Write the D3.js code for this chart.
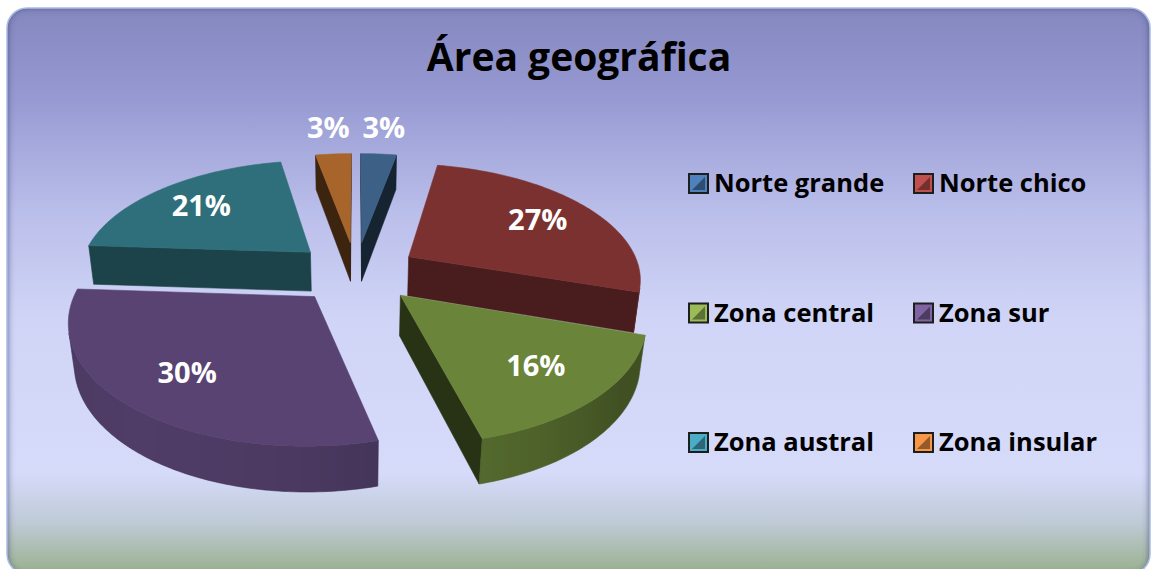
<!DOCTYPE html>
<html>
<head>
<meta charset="utf-8">
<script src="https://cdn.jsdelivr.net/npm/d3@7"></script>
<style>
  body { margin: 0; background: #fff; }
  svg { display: block; font-family: "Open Sans", sans-serif; }
</style>
</head>
<body>
<div id="chart"></div>
<script>
// data
var categories = ["Norte grande", "Norte chico", "Zona central", "Zona sur", "Zona austral", "Zona insular"];
var values = [3, 27, 16, 30, 21, 3];
var labels = ["3%", "27%", "16%", "30%", "21%", "3%"];
var title = "Área geográfica";

// palette
var topColors = ["#3d6186", "#7c3131", "#6a8539", "#584372", "#2f6f7b", "#a8652b"];
var legendColors = ["#4f81bd", "#c0504d", "#9bbb59", "#8064a2", "#4bacc6", "#f79646"];

var width = 1154, height = 569;

var svg = d3.select("#chart").append("svg")
    .attr("width", width)
    .attr("height", height);

var defs = svg.append("defs");

var bg = defs.append("linearGradient").attr("id", "bg")
    .attr("x1", 0).attr("y1", 0).attr("x2", 0).attr("y2", 1);
[[0, "#8587bf"], [0.16, "#979ad2"], [0.36, "#babeea"], [0.55, "#d0d5f7"], [0.82, "#d6dbfa"],
 [0.91, "#bfcad6"], [1, "#98b08c"]].forEach(function(s) {
    bg.append("stop").attr("offset", s[0]).attr("stop-color", s[1]);
});

defs.append("clipPath").attr("id", "frameClip")
    .append("rect").attr("x", 7).attr("y", 8).attr("width", 1143).attr("height", 566).attr("rx", 20);

defs.append("filter").attr("id", "blur").attr("x", -0.1).attr("y", -0.1).attr("width", 1.2).attr("height", 1.2)
    .append("feGaussianBlur").attr("stdDeviation", 3);

// frame
svg.append("rect")
    .attr("x", 7).attr("y", 8).attr("width", 1143).attr("height", 566).attr("rx", 20)
    .attr("fill", "url(#bg)");

svg.append("g").attr("clip-path", "url(#frameClip)")
    .append("rect")
    .attr("x", 4).attr("y", 4).attr("width", 1149).attr("height", 575).attr("rx", 22)
    .attr("fill", "none")
    .attr("stroke", "#3c3f6e")
    .attr("stroke-opacity", 0.7)
    .attr("stroke-width", 8)
    .attr("filter", "url(#blur)");

svg.append("rect")
    .attr("x", 7).attr("y", 8).attr("width", 1143).attr("height", 566).attr("rx", 20)
    .attr("fill", "none")
    .attr("stroke", "#a9bde6")
    .attr("stroke-width", 1.5);

// title
svg.append("text")
    .attr("x", 579).attr("y", 71)
    .attr("text-anchor", "middle")
    .attr("font-size", 39).attr("font-weight", "bold")
    .attr("fill", "#000")
    .text(title);

// 3D pie projection
var cx = 356, cy = 272, S = 232, D = 5, phi = 29.4 * Math.PI / 180;
var depth = 0.2, explode = 0.27;
var cosP = Math.cos(phi), sinP = Math.sin(phi);
var camZ = D * cosP;

function proj(X, Z, H) {
    var d = D - Z * cosP - H * sinP, k = D / d;
    return [cx + S * X * k, cy - S * (H * cosP - Z * sinP) * k];
}
function faces(px, pz, nx, nz) {
    return (0 - px) * nx + (camZ - pz) * nz > 0;
}
function shade(c, f) {
    var r = d3.rgb(c);
    return d3.rgb(r.r * f, r.g * f, r.b * f).formatHex();
}
function poly(pts) {
    return "M" + pts.map(function(p) { return p[0].toFixed(2) + "," + p[1].toFixed(2); }).join("L") + "Z";
}

var arcs = d3.pie().sort(null).value(function(d) { return d; })(values);

var slices = arcs.map(function(a, i) {
    var a0 = a.startAngle, a1 = a.endAngle, m = (a0 + a1) / 2;
    var ox = explode * Math.sin(m), oz = -explode * Math.cos(m);
    var base = topColors[i];
    var list = [];
    function pt(t, r, H) { return proj(ox + r * Math.sin(t), oz - r * Math.cos(t), H); }

    var n = Math.max(2, Math.ceil((a1 - a0) / (Math.PI / 180)));
    var ts = d3.range(n + 1).map(function(j) { return a0 + (a1 - a0) * j / n; });

    // radial walls
    [[a0, -Math.cos(a0), -Math.sin(a0)], [a1, Math.cos(a1), Math.sin(a1)]].forEach(function(w) {
        var t = w[0], nx = w[1], nz = w[2];
        if (faces(ox + 0.5 * Math.sin(t), oz - 0.5 * Math.cos(t), nx, nz)) {
            list.push({ d: poly([pt(t, 0, 0), pt(t, 1, 0), pt(t, 1, -depth), pt(t, 0, -depth)]),
                        fill: shade(base, 0.3 + 0.3 * Math.max(0, nz)) });
        }
    });

    // outer curved wall: visible run of segments, one path with a horizontal gradient
    var vis = [];
    for (var j = 0; j < n; j++) {
        var tm = (ts[j] + ts[j + 1]) / 2, nx = Math.sin(tm), nz = -Math.cos(tm);
        if (faces(ox + nx, oz + nz, nx, nz)) vis.push(j);
    }
    if (vis.length) {
        var j0 = vis[0], j1 = vis[vis.length - 1] + 1;
        var run = ts.slice(j0, j1 + 1);
        var topPts = run.map(function(t) { return pt(t, 1, 0); });
        var botPts = run.map(function(t) { return pt(t, 1, -depth); }).reverse();
        var gid = "wall" + i;
        var xs = topPts.map(function(p) { return p[0]; });
        var xmin = d3.min(xs), xmax = d3.max(xs);
        var g = defs.append("linearGradient").attr("id", gid)
            .attr("gradientUnits", "userSpaceOnUse")
            .attr("x1", xmin).attr("y1", 0).attr("x2", xmax).attr("y2", 0);
        var stops = run.map(function(t, k) {
            var nx = Math.sin(t), nz = -Math.cos(t);
            return [(topPts[k][0] - xmin) / Math.max(1, xmax - xmin),
                    shade(base, 0.6 + 0.3 * Math.max(0, 0.8 * nz - 0.6 * nx))];
        }).sort(function(p, q) { return p[0] - q[0]; });
        stops.forEach(function(s) {
            g.append("stop").attr("offset", s[0]).attr("stop-color", s[1]);
        });
        list.push({ d: poly(topPts.concat(botPts)), fill: "url(#" + gid + ")", stroke: shade(base, 0.7) });
    }

    // top face
    list.push({ d: poly([pt(0, 0, 0)].concat(ts.map(function(t) { return pt(t, 1, 0); }))), fill: base });

    var lr = values[i] < 5 ? 1.36 : 0.72;
    return {
        z: oz - 0.5 * Math.cos(m),
        faces: list,
        label: labels[i],
        lp: pt(m, lr, 0)
    };
});

var pieG = svg.append("g");
slices.slice().sort(function(a, b) { return a.z - b.z; }).forEach(function(s) {
    pieG.append("g").selectAll("path")
        .data(s.faces)
        .enter().append("path")
        .attr("d", function(f) { return f.d; })
        .attr("fill", function(f) { return f.fill; })
        .attr("stroke", function(f) { return f.stroke || f.fill; })
        .attr("stroke-width", 0.6)
        .attr("stroke-linejoin", "round");
});

svg.append("g").selectAll("text")
    .data(slices)
    .enter().append("text")
    .attr("x", function(s) { return s.lp[0]; })
    .attr("y", function(s) { return s.lp[1]; })
    .attr("dy", "0.36em")
    .attr("text-anchor", "middle")
    .attr("font-size", 29).attr("font-weight", "bold")
    .attr("fill", "#fff")
    .text(function(s) { return s.label; });

// legend
var colX = d3.scalePoint().domain([0, 1]).range([688, 913]);
var rowY = d3.scalePoint().domain([0, 1, 2]).range([183, 442]);

var leg = svg.append("g").selectAll("g")
    .data(categories)
    .enter().append("g")
    .attr("transform", function(d, i) { return "translate(" + colX(i % 2) + "," + rowY(Math.floor(i / 2)) + ")"; });

leg.append("rect")
    .attr("x", 1).attr("y", -9).attr("width", 19).attr("height", 19)
    .attr("fill", function(d, i) { return legendColors[i]; })
    .attr("stroke", "#1e1e1e").attr("stroke-width", 2);

leg.append("path")
    .attr("d", "M4,7L17,-6L17,7Z")
    .attr("fill", function(d, i) { return shade(legendColors[i], 0.6); });

leg.append("text")
    .attr("x", 26).attr("y", 9)
    .attr("font-size", 25.5).attr("font-weight", "bold")
    .attr("fill", "#000")
    .text(function(d) { return d; });
</script>
</body>
</html>
